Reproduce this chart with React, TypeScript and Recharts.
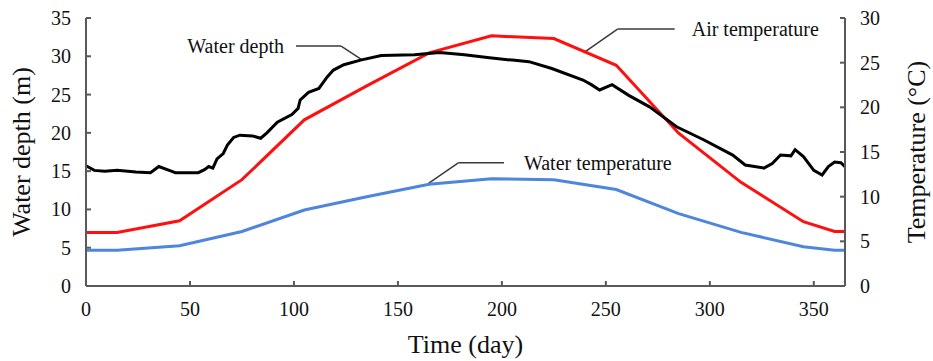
import React from 'react';
import { LineChart, Line, XAxis, YAxis, ReferenceLine, ReferenceDot, Label } from 'recharts';

// water depth (m)
const depthDays = [0, 4, 9, 15, 24, 31, 35, 41, 43, 54, 57, 59, 61, 63, 66, 68, 71, 74, 80, 84, 87, 92, 99, 102, 103, 107, 112, 116, 119, 124, 132, 142, 158, 170, 182, 194, 205, 213, 224, 239, 243, 247, 253, 261, 271, 284, 297, 311, 317, 326, 330, 334, 339, 341, 345, 350, 354, 357, 360, 363, 365];
const depthValues = [15.7, 15.1, 15.0, 15.1, 14.9, 14.8, 15.6, 15.0, 14.8, 14.8, 15.2, 15.6, 15.4, 16.6, 17.3, 18.4, 19.4, 19.7, 19.6, 19.3, 20.0, 21.4, 22.4, 23.2, 24.3, 25.3, 25.8, 27.3, 28.2, 28.9, 29.5, 30.1, 30.2, 30.5, 30.2, 29.8, 29.5, 29.3, 28.4, 26.9, 26.3, 25.6, 26.3, 24.9, 23.4, 20.8, 19.1, 17.1, 15.8, 15.4, 16.0, 17.1, 17.0, 17.8, 16.9, 15.1, 14.5, 15.6, 16.2, 16.1, 15.6];

// temperatures (°C), right axis
const tempDays = [0, 15, 45, 75, 105, 135, 165, 195, 225, 255, 285, 315, 345, 360, 365];
const airTemp = [6.0, 6.0, 7.3, 11.9, 18.6, 22.4, 26.1, 28.0, 27.7, 24.7, 17.1, 11.6, 7.2, 6.1, 6.1];
const waterTemp = [4.0, 4.0, 4.5, 6.1, 8.5, 10.0, 11.4, 12.0, 11.9, 10.8, 8.1, 6.0, 4.4, 4.0, 4.0];

const dayTicks = [0, 50, 100, 150, 200, 250, 300, 350];
const depthTicks = [0, 5, 10, 15, 20, 25, 30, 35];
const tempTicks = [0, 5, 10, 15, 20, 25, 30];

// callouts: text, side, leader polyline in (day, depth) units
const callouts = [
  { text: 'Water depth', side: 'left', offset: 12, pts: [[101, 31.34], [122.7, 31.34], [132.4, 29.6]] },
  { text: 'Air temperature', side: 'right', offset: 17, pts: [[283.1, 33.56], [255.6, 33.56], [240.1, 30.6]] },
  { text: 'Water temperature', side: 'right', offset: 20, pts: [[201, 16.1], [179.2, 16.1], [164.7, 13.4]] },
];

const depthData = depthDays.map((d, i) => ({ day: d, depth: depthValues[i] }));
const tempData = tempDays.map((d, i) => ({ day: d, air: airTemp[i], water: waterTemp[i] }));

const FONT = 'Liberation Serif, DejaVu Serif, serif';
const AXIS = '#595959';

// tick text drawn by hand so the serif font sticks
const makeTick = (anchor: string, dy: string) => (p: any) => (
  <text x={p.x} y={p.y} dy={dy} textAnchor={anchor} fontSize={20} fill="#111"
    fontFamily="Liberation Serif" style={{ fontFamily: FONT }}>
    {p.payload.value}
  </text>
);

const VTitle = ({ viewBox, value, bx }: any) => {
  const cy = viewBox.y + viewBox.height / 2;
  return (
    <text x={bx} y={cy} transform={`rotate(-90 ${bx} ${cy})`} textAnchor="middle"
      fontSize={26} fill="#111" style={{ fontFamily: FONT }}>{value}</text>
  );
};

export default function App() {
  return (
    <div style={{ position: 'absolute', left: 0, top: 0, background: '#fff', fontFamily: FONT }}>
      <LineChart width={933} height={361} margin={{ top: 18, right: 0, left: 0, bottom: 0 }}>
        <XAxis type="number" dataKey="day" domain={[0, 365]} ticks={dayTicks} interval={0}
          height={75} stroke={AXIS} strokeWidth={2} tickSize={-5} tickMargin={21} tick={makeTick('middle', '0.71em')}>
          <Label value="Time (day)" position="insideBottom" offset={8} fontSize={26} fill="#111" style={{ fontFamily: FONT }} />
        </XAxis>
        <YAxis yAxisId="depth" domain={[0, 35]} ticks={depthTicks} interval={0} width={86}
          stroke={AXIS} strokeWidth={2} tickSize={-5} tickMargin={20} tick={makeTick('end', '0.35em')}>
          <Label content={(p: any) => <VTitle {...p} value="Water depth (m)" bx={30} />} />
        </YAxis>
        <YAxis yAxisId="temp" orientation="right" domain={[0, 30]} ticks={tempTicks} interval={0} width={88}
          stroke={AXIS} strokeWidth={2} tickSize={-5} tickMargin={20} tick={makeTick('start', '0.35em')}>
          <Label content={(p: any) => <VTitle {...p} value="Temperature (°C)" bx={925} />} />
        </YAxis>

        {callouts.map((c, i) => (
          <React.Fragment key={i}>
            <ReferenceLine yAxisId="depth" ifOverflow="visible" stroke="#3a3a3a" strokeWidth={1.5}
              segment={[{ x: c.pts[0][0], y: c.pts[0][1] }, { x: c.pts[1][0], y: c.pts[1][1] }]} />
            <ReferenceLine yAxisId="depth" ifOverflow="visible" stroke="#3a3a3a" strokeWidth={1.5}
              segment={[{ x: c.pts[1][0], y: c.pts[1][1] }, { x: c.pts[2][0], y: c.pts[2][1] }]} />
            <ReferenceDot yAxisId="depth" x={c.pts[0][0]} y={c.pts[0][1]} r={0.01} fill="none" stroke="none"
              ifOverflow="visible"
              label={{ value: c.text, position: c.side, offset: c.offset, fontSize: 20, fill: '#111', style: { fontFamily: FONT } }} />
          </React.Fragment>
        ))}

        <Line yAxisId="temp" data={tempData} dataKey="water" type="linear" stroke="#4d86dc" strokeWidth={3}
          dot={false} isAnimationActive={false} />
        <Line yAxisId="temp" data={tempData} dataKey="air" type="linear" stroke="#ff1010" strokeWidth={3}
          dot={false} isAnimationActive={false} />
        <Line yAxisId="depth" data={depthData} dataKey="depth" type="linear" stroke="#000" strokeWidth={3}
          dot={false} isAnimationActive={false} />
      </LineChart>
    </div>
  );
}
